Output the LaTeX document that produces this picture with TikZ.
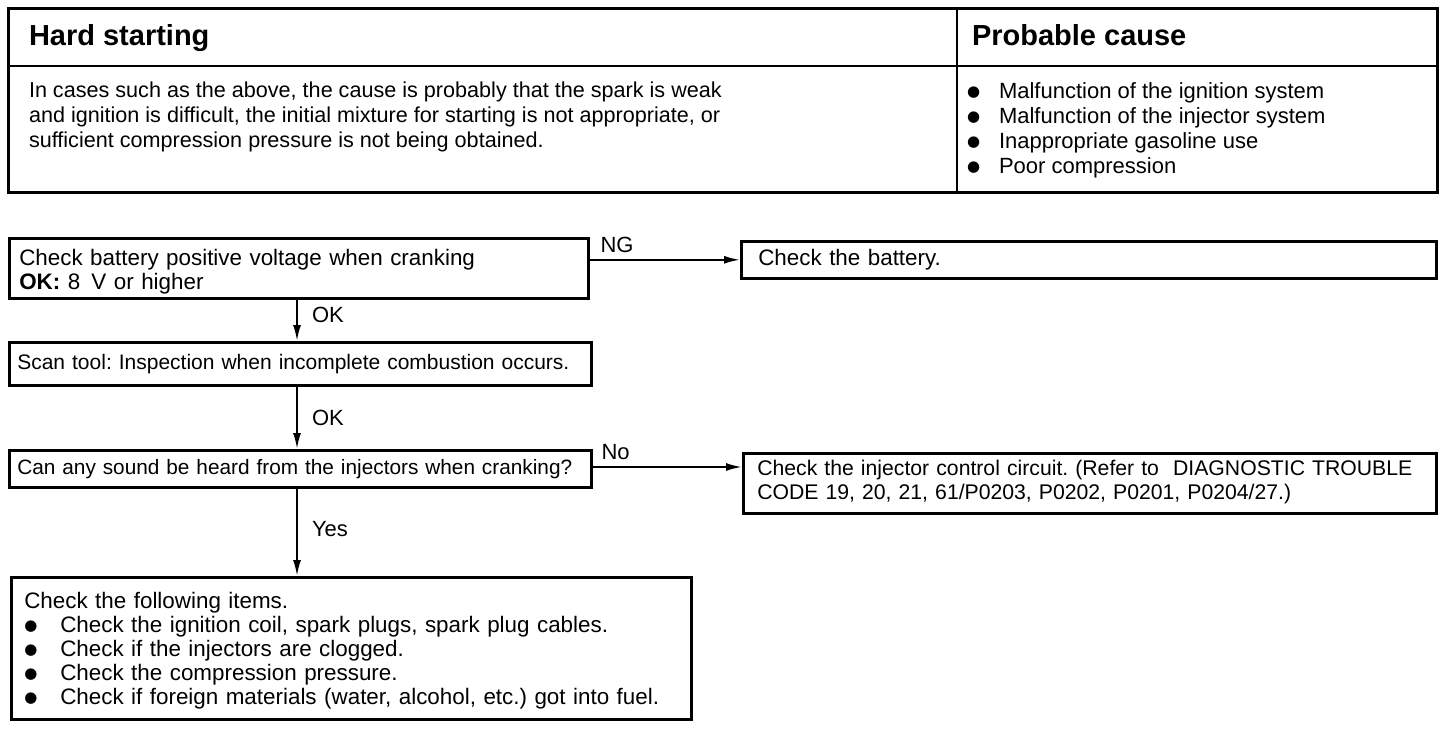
\documentclass[tikz,border=0pt]{standalone}
\usepackage{fontspec}
\setmainfont{Liberation Sans}
\newfontfamily\dotfont{DejaVu Sans}
\usetikzlibrary{positioning, arrows.meta}
\frenchspacing

\newcommand{\dotitem}[2][16pt]{\makebox[#1][l]{\raisebox{1pt}{\dotfont\fontsize{7.5}{8}\selectfont ●}}#2}

\tikzset{
  head/.style={font=\bfseries\fontsize{14.5}{16}\selectfont, inner sep=0pt},
  note/.style={align=left, inner sep=0pt, font=\fontsize{11}{12.5}\selectfont},
  stepbox/.style={draw, line width=1.3pt, align=left, inner ysep=0pt,
    anchor=north west, font=\fontsize{11.2}{12}\selectfont},
  answer/.style={inner sep=0pt, font=\fontsize{11}{12}\selectfont},
}

\begin{document}
\begin{tikzpicture}[x=0.5pt, y=-0.5pt, line width=1pt,
  >={Latex[length=8pt,width=4pt]}]
\useasboundingbox (0,0) rectangle (1456,728);

% table at the top
\draw[line width=1.5pt] (8,8) rectangle (1437,192);
\draw (8,66) -- (1437,66);
\draw (957,8) -- (957,192);
\node[head, anchor=base west] (hard) at (28,46) {Hard starting};
\node[head, anchor=base west] (probable) at (971,46) {Probable cause};
\node[note, anchor=north west, font=\fontsize{10.8}{12.5}\selectfont] (about) at (28,81)
  {In cases such as the above, the cause is probably that the spark is weak\\
   and ignition is difficult, the initial mixture for starting is not appropriate, or\\
   sufficient compression pressure is not being obtained.};
\node[note, anchor=north west] (causes) at (966,82)
  {\dotitem{Malfunction of the ignition system}\\
   \dotitem{Malfunction of the injector system}\\
   \dotitem{Inappropriate gasoline use}\\
   \dotitem{Poor compression}};

% flow chart
\node[stepbox, text width=279.5pt, inner xsep=5pt, text height=13.5pt, text depth=16.5pt] (volt) at (8,237)
  {Check battery positive voltage when cranking\\ \textbf{OK:} 8\ \,V or higher};
\node[stepbox, text width=330.5pt, inner xsep=8.5pt, text height=12pt, text depth=6.5pt] (battery) at (740,240)
  {Check the battery.};
\node[stepbox, text width=283pt, inner xsep=4pt, text height=13.5pt, text depth=8pt,
  font=\fontsize{10.5}{12}\selectfont] (scan) at (8,341)
  {Scan tool: Inspection when incomplete combustion occurs.};
\node[stepbox, text width=283pt, inner xsep=4pt, text height=12pt, text depth=6.5pt,
  font=\fontsize{10.4}{12}\selectfont] (sound) at (8,449)
  {Can any sound be heard from the injectors when cranking?};
\node[stepbox, text width=332.5pt, inner xsep=7pt, text height=11pt, text depth=19pt,
  font=\fontsize{10.6}{12}\selectfont] (circuit) at (742,452)
  {Check the injector control circuit. (Refer to\ \ DIAGNOSTIC TROUBLE\\
   CODE 19, 20, 21, 61/P0203, P0202, P0201, P0204/27.)};
\node[stepbox, text width=327pt, inner xsep=6.5pt, text height=15.5pt, text depth=55.5pt] (items) at (10,576)
  {Check the following items.\\
   \dotitem[18pt]{Check the ignition coil, spark plugs, spark plug cables.}\\
   \dotitem[18pt]{Check if the injectors are clogged.}\\
   \dotitem[18pt]{Check the compression pressure.}\\
   \dotitem[18pt]{Check if foreign materials (water, alcohol, etc.) got into fuel.}};

\path[->]
  (volt.east |- battery.west) edge node[answer, pos=0, above right, xshift=5pt, yshift=3pt] {NG} (battery.west)
  (297,0 |- volt.south) edge node[answer, pos=0.37, right, xshift=7pt] {OK} (297,0 |- scan.north)
  (297,0 |- scan.south) edge node[answer, pos=0.5, right, xshift=7pt] {OK} (297,0 |- sound.north)
  (sound.east |- 0,467) edge node[answer, pos=0, above right, xshift=4pt, yshift=3pt] {No} (circuit.west |- 0,467)
  (297,0 |- sound.south) edge node[answer, pos=0.46, right, xshift=7pt] {Yes} (297,0 |- items.north);
\end{tikzpicture}
\end{document}
